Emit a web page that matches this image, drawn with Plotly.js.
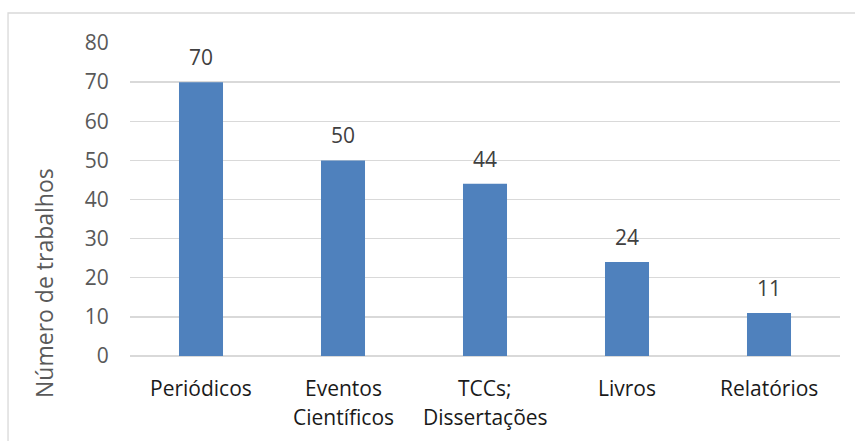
<!DOCTYPE html>
<html>
<head>
<meta charset="utf-8">
<script src="https://cdn.plot.ly/plotly-3.0.1.min.js"></script>
<style>html,body{margin:0;padding:0;background:#fff;}#chart{width:855px;height:441px;}</style>
</head>
<body>
<div id="chart"></div>
<script>
const categories = ["Periódicos", "Eventos<br>Científicos", "TCCs;<br>Dissertações", "Livros", "Relatórios"];
const values = [70, 50, 44, 24, 11];
const yTicks = [0, 10, 20, 30, 40, 50, 60, 70, 80];
const yTitle = "Número de trabalhos";

const FONT = "'Open Sans', 'Noto Sans', sans-serif";
const annotations = [];
// data labels
categories.forEach((c, i) => {
  annotations.push({
    x: c, y: values[i], xref: 'x', yref: 'y',
    text: String(values[i]), showarrow: false,
    yanchor: 'middle', yshift: 25,
    font: {family: FONT, size: 21, color: '#404040'}
  });
});
// category labels (two-line spacing like the original)
categories.forEach((c) => {
  c.split('<br>').forEach((line, j) => {
    annotations.push({
      x: c, y: 0, xref: 'x', yref: 'paper',
      text: line, showarrow: false,
      yanchor: 'middle', yshift: -32 - 29 * j,
      font: {family: FONT, size: 21, color: '#1a1a1a'}
    });
  });
});
// y-axis title
annotations.push({
  x: 0, y: 0, xref: 'paper', yref: 'paper',
  xshift: -86, yshift: 73,
  text: yTitle, showarrow: false, textangle: -90,
  xanchor: 'center', yanchor: 'middle',
  font: {family: FONT, size: 23, color: '#595959'}
});

const trace = {
  type: 'bar', x: categories, y: values,
  marker: {color: '#4F81BD', line: {width: 0}},
  hoverinfo: 'none'
};

const layout = {
  width: 855, height: 441,
  margin: {l: 130, r: 15, t: 43, b: 85, pad: 0},
  paper_bgcolor: '#ffffff', plot_bgcolor: '#ffffff',
  bargap: 0.69,
  showlegend: false,
  font: {family: FONT},
  xaxis: {
    type: 'category', showticklabels: false, showgrid: false,
    zeroline: false, showline: false, ticks: ''
  },
  yaxis: {
    range: [0, 80], tickvals: yTicks, ticktext: yTicks.map(String),
    showgrid: true, gridcolor: '#d9d9d9', gridwidth: 1.3,
    zeroline: true, zerolinecolor: '#d9d9d9', zerolinewidth: 1.3,
    showline: false, ticks: 'outside', ticklen: 16, tickcolor: 'rgba(0,0,0,0)',
    tickfont: {family: FONT, size: 21, color: '#595959'}
  },
  annotations: annotations,
  shapes: [{
    type: 'rect', xref: 'paper', yref: 'paper',
    x0: -0.1718, x1: 1.03, y0: -0.29, y1: 1.0958,
    line: {color: '#d9d9d9', width: 1.3}, fillcolor: 'rgba(0,0,0,0)', layer: 'below'
  }]
};

Plotly.newPlot('chart', [trace], layout, {staticPlot: true, displayModeBar: false});
</script>
</body>
</html>
